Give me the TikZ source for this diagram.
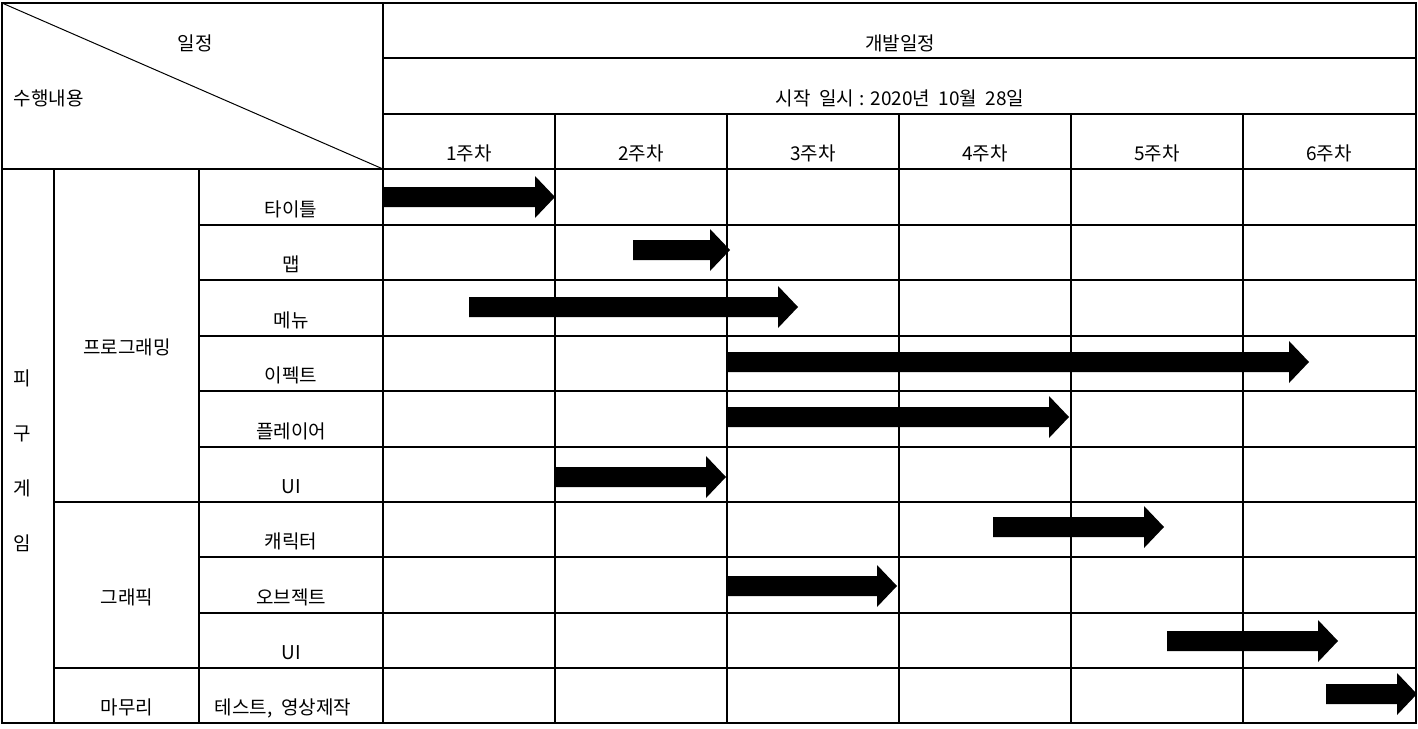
\documentclass[tikz,border=0pt]{standalone}
\usepackage{fontspec}
\setmainfont{Noto Sans CJK KR}

% block arrow of the schedule: start x, tip x, centre y
\newcommand{\ganttbar}[3]{%
	\fill (#1,#3-10) -- (#2-20,#3-10) -- (#2-20,#3-21) -- (#2,#3)
		-- (#2-20,#3+21) -- (#2-20,#3+10) -- (#1,#3+10) -- cycle;}

\begin{document}
\begin{tikzpicture}[x=0.5pt,y=-0.5pt,line width=0.9pt,
		cell/.style={anchor=base,inner sep=0pt,font=\fontsize{9.5}{11}\selectfont}]
		\useasboundingbox (0,0) rectangle (1418,728);
%		\draw[help lines] (0,0) grid (1418,728);
		\path (2,3) coordinate (tl);
		\path (1416,723) coordinate (br);
		\path (383,3) coordinate (headt);
		\path (383,723) coordinate (headb);
		\path (383,169) coordinate (diag_end);

		% frame and header
		\draw (tl) rectangle (br);
		\draw[line width=0.5pt] (tl) -- (diag_end);
		\draw (headt) -- (headb);
		\draw (383,58) -- (1416,58);
		\draw (383,114) -- (1416,114);
		\draw (2,169) -- (1416,169);

		% week columns
		\draw (555,114) -- (555,723);
		\draw (727,114) -- (727,723);
		\draw (899,114) -- (899,723);
		\draw (1071,114) -- (1071,723);
		\draw (1243,114) -- (1243,723);

		% left columns
		\draw (54,169) -- (54,723);
		\draw (199,169) -- (199,723);
		\draw (54,502) -- (199,502);
		\draw (54,668) -- (199,668);

		% task rows
		\draw (199,225) -- (1416,225);
		\draw (199,280) -- (1416,280);
		\draw (199,336) -- (1416,336);
		\draw (199,391) -- (1416,391);
		\draw (199,447) -- (1416,447);
		\draw (199,502) -- (1416,502);
		\draw (199,557) -- (1416,557);
		\draw (199,613) -- (1416,613);
		\draw (199,668) -- (1416,668);

		% header texts
		\draw (195,50) node(sched_lbl) [cell] {일정};
		\draw (13,105) node(work_lbl) [cell,anchor=base west] {수행내용};
		\draw (900,50) node(dev_lbl) [cell] {개발일정};
		\draw (900,105) node(start_lbl) [cell] {시작~ 일시\hspace{0.3em}: 2020년~ 10월~ 28일};
		\draw (469,160) node(week1) [cell] {1주차};
		\draw (641,160) node(week2) [cell] {2주차};
		\draw (813,160) node(week3) [cell] {3주차};
		\draw (985,160) node(week4) [cell] {4주차};
		\draw (1157,160) node(week5) [cell] {5주차};
		\draw (1329,160) node(week6) [cell] {6주차};

		% groups
		\draw (13,385) node(game_p) [cell,anchor=base west] {피};
		\draw (13,440) node(game_g) [cell,anchor=base west] {구};
		\draw (13,495) node(game_k) [cell,anchor=base west] {게};
		\draw (13,550) node(game_i) [cell,anchor=base west] {임};
		\draw (127,354) node(prog_lbl) [cell] {프로그래밍};
		\draw (127,604) node(gfx_lbl) [cell] {그래픽};
		\draw (127,714) node(fin_lbl) [cell] {마무리};

		% tasks
		\draw (291,216) node(title_lbl) [cell] {타이틀};
		\draw (291,271) node(map_lbl) [cell] {맵};
		\draw (291,327) node(menu_lbl) [cell] {메뉴};
		\draw (291,382) node(effect_lbl) [cell] {이펙트};
		\draw (291,438) node(player_lbl) [cell] {플레이어};
		\draw (291,493) node(ui_lbl) [cell] {UI};
		\draw (291,548) node(char_lbl) [cell] {캐릭터};
		\draw (291,604) node(obj_lbl) [cell] {오브젝트};
		\draw (291,659) node(gui_lbl) [cell] {UI};
		\draw (283,714) node(test_lbl) [cell] {테스트,~ 영상제작};

		% schedule bars
		\ganttbar{383}{555}{197}
		\ganttbar{633}{730}{250}
		\ganttbar{469}{798}{307}
		\ganttbar{727}{1309}{362}
		\ganttbar{727}{1069}{417}
		\ganttbar{555}{726}{477}
		\ganttbar{993}{1164}{527}
		\ganttbar{727}{897}{586}
		\ganttbar{1167}{1338}{641}
		\ganttbar{1326}{1417}{694}
	\end{tikzpicture}
\end{document}
